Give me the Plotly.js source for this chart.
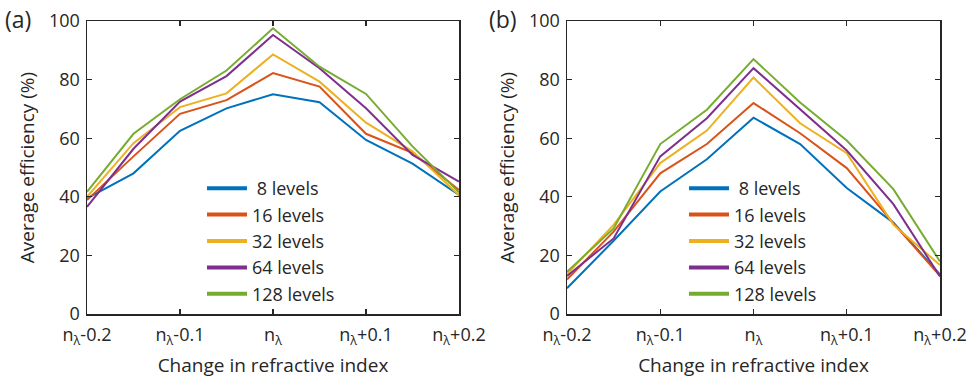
<!DOCTYPE html>
<html>
<head>
<meta charset="utf-8">
<script src="https://cdn.plot.ly/plotly-3.0.1.min.js"></script>
<style>html,body{margin:0;padding:0;background:#fff;}#chart{width:975px;height:380px;}</style>
</head>
<body>
<div id="chart"></div>
<script>
// Change in refractive index (offset from n_lambda)
const deltaN = [-0.2, -0.15, -0.1, -0.05, 0, 0.05, 0.1, 0.15, 0.2];
const tickVals = [-0.2, -0.1, 0, 0.1, 0.2];
const tickLabels = ["n<sub>λ</sub>-0.2", "n<sub>λ</sub>-0.1", "n<sub>λ</sub>", "n<sub>λ</sub>+0.1", "n<sub>λ</sub>+0.2"];
const seriesNames = [" 8 levels", "16 levels", "32 levels", "64 levels", "128 levels"];

// Panel (a) average efficiency (%)
const a_8   = [39.5, 48.0, 62.5, 70.2, 75.0, 72.3, 59.4, 51.3, 40.6];
const a_16  = [38.9, 53.8, 68.3, 73.0, 82.2, 77.6, 61.5, 55.0, 42.3];
const a_32  = [40.0, 58.3, 70.6, 75.3, 88.6, 79.3, 65.3, 55.5, 40.5];
const a_64  = [36.6, 56.4, 72.5, 81.2, 95.2, 83.9, 70.2, 54.3, 45.2];
const a_128 = [41.7, 61.5, 73.3, 83.1, 97.5, 84.4, 75.1, 57.2, 41.5];

// Panel (b) average efficiency (%)
const b_8   = [8.8, 25.0, 41.8, 52.8, 67.0, 58.0, 43.0, 31.2, 13.5];
const b_16  = [11.8, 28.1, 48.0, 58.0, 72.0, 61.7, 49.8, 31.0, 13.0];
const b_32  = [13.6, 30.4, 51.5, 62.6, 80.7, 65.1, 54.9, 30.5, 16.7];
const b_64  = [13.0, 25.8, 53.8, 66.8, 83.9, 69.7, 55.8, 37.5, 12.8];
const b_128 = [14.4, 29.2, 58.0, 69.7, 87.0, 72.2, 59.2, 42.6, 17.9];

const colors = ["#0072BD", "#D95319", "#EDB120", "#7E2F8E", "#77AC30"];
const panelA = [a_8, a_16, a_32, a_64, a_128];
const panelB = [b_8, b_16, b_32, b_64, b_128];

const FONT = "Open Sans, Noto Sans, sans-serif";
const INK = "#262626";

const traces = [];
panelA.forEach((ys, i) => traces.push({
  x: deltaN, y: ys, type: "scatter", mode: "lines", xaxis: "x", yaxis: "y",
  line: {color: colors[i], width: 2}, showlegend: false, hoverinfo: "skip"
}));
panelB.forEach((ys, i) => traces.push({
  x: deltaN, y: ys, type: "scatter", mode: "lines", xaxis: "x2", yaxis: "y2",
  line: {color: colors[i], width: 2}, showlegend: false, hoverinfo: "skip"
}));
// legend entries (thicker line samples, like the reference)
seriesNames.forEach((nm, i) => traces.push({
  x: [null], y: [null], type: "scatter", mode: "lines", xaxis: "x", yaxis: "y",
  name: nm, line: {color: colors[i], width: 4}, legend: "legend", showlegend: true
}));
seriesNames.forEach((nm, i) => traces.push({
  x: [null], y: [null], type: "scatter", mode: "lines", xaxis: "x2", yaxis: "y2",
  name: nm, line: {color: colors[i], width: 4}, legend: "legend2", showlegend: true
}));

const xBase = {
  range: [-0.2, 0.2], tickvals: tickVals, ticktext: tickLabels,
  ticks: "inside", ticklen: 5, tickwidth: 1.3, tickcolor: INK,
  showline: true, linecolor: INK, linewidth: 1.5, mirror: "ticks",
  showgrid: false, zeroline: false, ticklabelstandoff: 4,
  tickfont: {family: FONT, size: 18, color: INK},
  title: {text: "Change in refractive index", font: {family: FONT, size: 19, color: INK}, standoff: 11}
};
const yBase = {
  range: [0, 100], tickvals: [0, 20, 40, 60, 80, 100],
  ticks: "inside", ticklen: 5, tickwidth: 1.3, tickcolor: INK,
  showline: true, linecolor: INK, linewidth: 1.5, mirror: "ticks",
  showgrid: false, zeroline: false, ticklabelstandoff: 2,
  tickfont: {family: FONT, size: 18, color: INK},
  title: {text: "Average efficiency (%)", font: {family: FONT, size: 19, color: INK}, standoff: 9}
};
const legBase = {
  bgcolor: "rgba(0,0,0,0)", borderwidth: 0, yanchor: "top", xanchor: "left",
  font: {family: FONT, size: 18, color: INK}, tracegroupgap: 0, itemwidth: 40
};

const layout = {
  width: 975, height: 380,
  margin: {l: 0, r: 0, t: 0, b: 0},
  paper_bgcolor: "#fff", plot_bgcolor: "#fff",
  font: {family: FONT, color: INK},
  xaxis: Object.assign({}, xBase, {domain: [87/975, 459/975], anchor: "y"}),
  yaxis: Object.assign({}, yBase, {domain: [1 - 314/380, 1 - 21/380], anchor: "x"}),
  xaxis2: Object.assign({}, xBase, {domain: [567/975, 940/975], anchor: "y2"}),
  yaxis2: Object.assign({}, yBase, {domain: [1 - 314/380, 1 - 21/380], anchor: "x2"}),
  legend: Object.assign({}, legBase, {x: 202/975, y: 1 - 170/380}),
  legend2: Object.assign({}, legBase, {x: 684/975, y: 1 - 170/380}),
  annotations: [
    {text: "(a)", xref: "paper", yref: "paper", x: 3/975, y: 1 - 19/380, xanchor: "left", yanchor: "middle",
     showarrow: false, font: {family: FONT, size: 23, color: INK}},
    {text: "(b)", xref: "paper", yref: "paper", x: 487/975, y: 1 - 19/380, xanchor: "left", yanchor: "middle",
     showarrow: false, font: {family: FONT, size: 23, color: INK}}
  ]
};

Plotly.newPlot("chart", traces, layout, {staticPlot: true, displayModeBar: false});
</script>
</body>
</html>
